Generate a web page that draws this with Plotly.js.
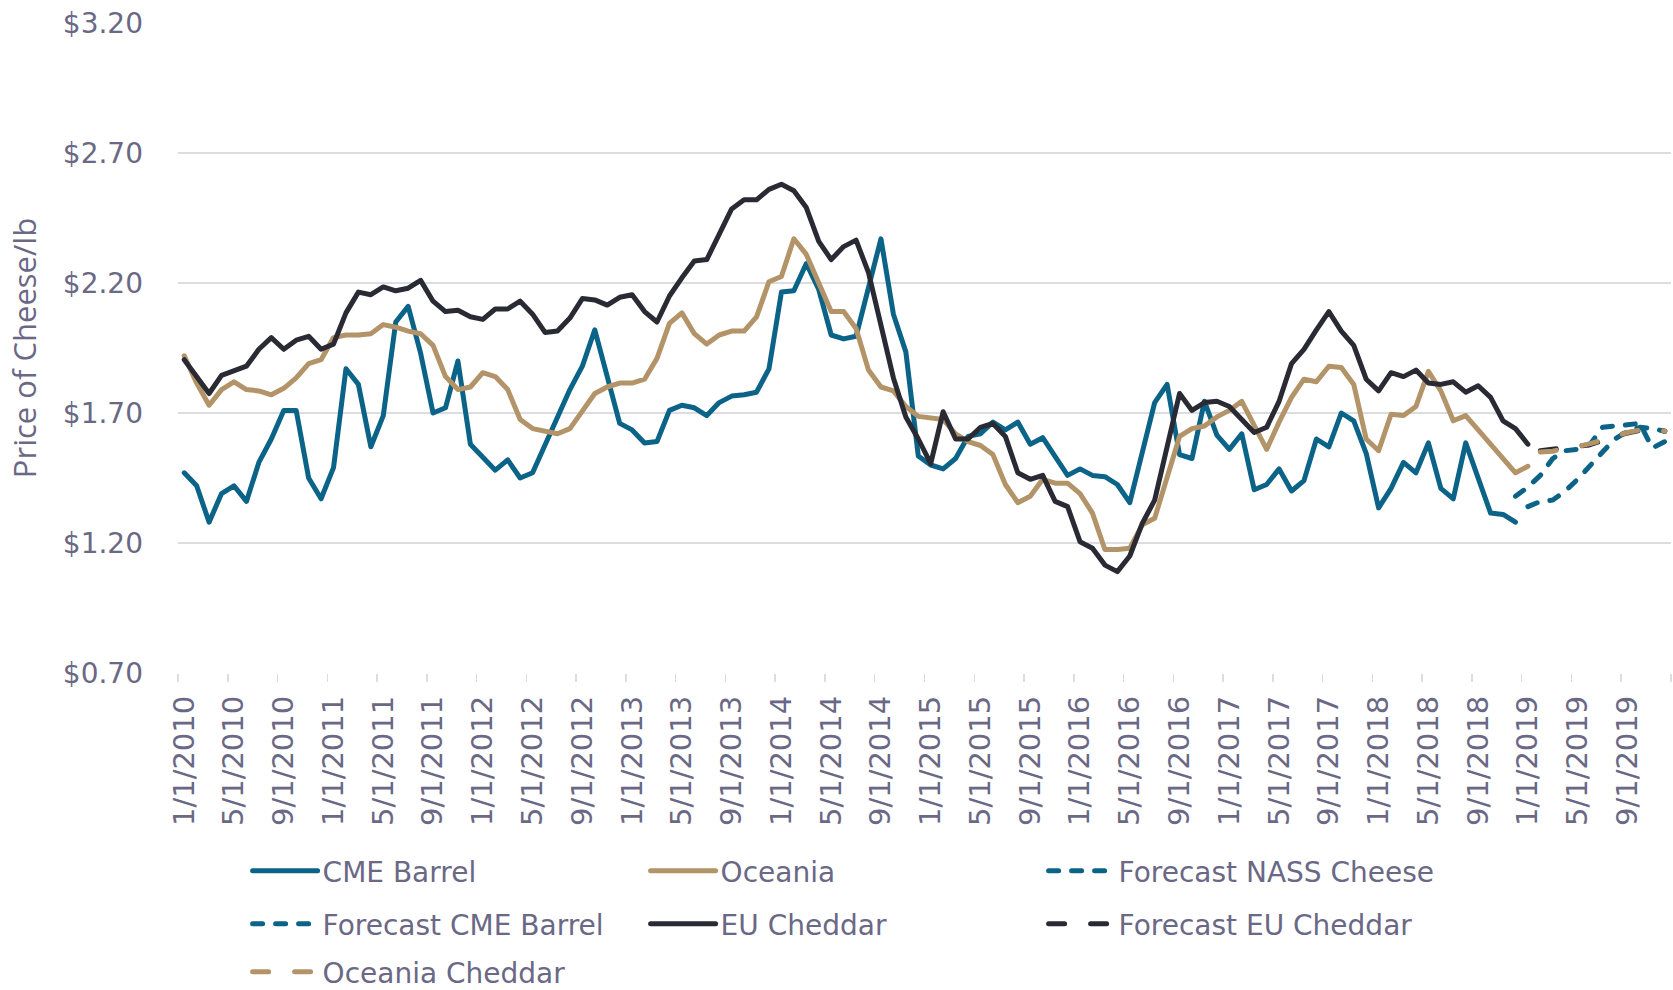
<!DOCTYPE html>
<html><head><meta charset="utf-8">
<script src="https://cdn.plot.ly/plotly-3.0.1.min.js"></script>
<style>
html,body{margin:0;padding:0;background:#fff;}
#chart{width:1673px;height:990px;}
.scatterlayer .js-line, .legendlines path { stroke-linecap: round; stroke-linejoin: round; }
</style></head><body><div id="chart"></div><script>
const months = [
"1/1/2010","2/1/2010","3/1/2010","4/1/2010","5/1/2010","6/1/2010","7/1/2010","8/1/2010","9/1/2010","10/1/2010","11/1/2010","12/1/2010",
"1/1/2011","2/1/2011","3/1/2011","4/1/2011","5/1/2011","6/1/2011","7/1/2011","8/1/2011","9/1/2011","10/1/2011","11/1/2011","12/1/2011",
"1/1/2012","2/1/2012","3/1/2012","4/1/2012","5/1/2012","6/1/2012","7/1/2012","8/1/2012","9/1/2012","10/1/2012","11/1/2012","12/1/2012",
"1/1/2013","2/1/2013","3/1/2013","4/1/2013","5/1/2013","6/1/2013","7/1/2013","8/1/2013","9/1/2013","10/1/2013","11/1/2013","12/1/2013",
"1/1/2014","2/1/2014","3/1/2014","4/1/2014","5/1/2014","6/1/2014","7/1/2014","8/1/2014","9/1/2014","10/1/2014","11/1/2014","12/1/2014",
"1/1/2015","2/1/2015","3/1/2015","4/1/2015","5/1/2015","6/1/2015","7/1/2015","8/1/2015","9/1/2015","10/1/2015","11/1/2015","12/1/2015",
"1/1/2016","2/1/2016","3/1/2016","4/1/2016","5/1/2016","6/1/2016","7/1/2016","8/1/2016","9/1/2016","10/1/2016","11/1/2016","12/1/2016",
"1/1/2017","2/1/2017","3/1/2017","4/1/2017","5/1/2017","6/1/2017","7/1/2017","8/1/2017","9/1/2017","10/1/2017","11/1/2017","12/1/2017",
"1/1/2018","2/1/2018","3/1/2018","4/1/2018","5/1/2018","6/1/2018","7/1/2018","8/1/2018","9/1/2018","10/1/2018","11/1/2018","12/1/2018",
"1/1/2019","2/1/2019","3/1/2019","4/1/2019","5/1/2019","6/1/2019","7/1/2019","8/1/2019","9/1/2019","10/1/2019","11/1/2019","12/1/2019"
];
const tickLabels = [
"1/1/2010","5/1/2010","9/1/2010","1/1/2011","5/1/2011","9/1/2011","1/1/2012","5/1/2012","9/1/2012",
"1/1/2013","5/1/2013","9/1/2013","1/1/2014","5/1/2014","9/1/2014","1/1/2015","5/1/2015","9/1/2015",
"1/1/2016","5/1/2016","9/1/2016","1/1/2017","5/1/2017","9/1/2017","1/1/2018","5/1/2018","9/1/2018",
"1/1/2019","5/1/2019","9/1/2019"
];
const yTicks = [0.70, 1.20, 1.70, 2.20, 2.70, 3.20];
const yTickText = ["$0.70", "$1.20", "$1.70", "$2.20", "$2.70", "$3.20"];

const cmeBarrel = [
1.47,1.42,1.28,1.39,1.42,1.36,1.51,1.60,1.71,1.71,1.45,1.37,
1.49,1.87,1.81,1.57,1.69,2.05,2.11,1.93,1.70,1.72,1.90,1.58,
1.53,1.48,1.52,1.45,1.47,1.58,1.68,1.79,1.88,2.02,1.84,1.66,
1.635,1.585,1.59,1.71,1.73,1.72,1.69,1.74,1.765,1.77,1.78,1.87,
2.165,2.17,2.275,2.175,2.00,1.985,1.995,2.175,2.37,2.08,1.935,1.535,
1.50,1.485,1.525,1.61,1.62,1.665,1.635,1.665,1.58,1.605,1.535,1.46,
1.485,1.46,1.455,1.425,1.355,1.545,1.74,1.81,1.54,1.525,1.745,1.615,
1.56,1.62,1.405,1.425,1.485,1.40,1.44,1.60,1.57,1.70,1.67,1.545,
1.335,1.41,1.51,1.47,1.585,1.41,1.37,1.585,1.45,1.315,1.31,1.28,
null,null,null,null,null,null,null,null,null,null,null,null
];
const oceania = [
1.92,1.815,1.73,1.79,1.82,1.79,1.785,1.77,1.795,1.835,1.89,1.905,
1.99,2.00,2.00,2.005,2.04,2.03,2.015,2.005,1.96,1.84,1.79,1.80,
1.855,1.84,1.79,1.675,1.64,1.63,1.62,1.64,1.71,1.775,1.80,1.815,
1.815,1.83,1.91,2.045,2.085,2.005,1.965,2.00,2.015,2.015,2.07,2.205,
2.225,2.37,2.31,2.20,2.09,2.09,2.025,1.865,1.80,1.785,1.725,1.687,
1.68,1.675,1.62,1.59,1.575,1.54,1.425,1.355,1.38,1.445,1.43,1.43,
1.39,1.315,1.175,1.175,1.18,1.27,1.295,1.455,1.61,1.64,1.65,1.685,
1.71,1.745,1.655,1.56,1.665,1.76,1.83,1.82,1.88,1.875,1.81,1.60,
1.555,1.695,1.69,1.725,1.86,1.785,1.67,1.69,1.635,1.58,1.525,1.47,
1.495,null,null,null,null,null,null,null,null,null,null,null
];
const forecastNass = [
null,null,null,null,null,null,null,null,null,null,null,null,
null,null,null,null,null,null,null,null,null,null,null,null,
null,null,null,null,null,null,null,null,null,null,null,null,
null,null,null,null,null,null,null,null,null,null,null,null,
null,null,null,null,null,null,null,null,null,null,null,null,
null,null,null,null,null,null,null,null,null,null,null,null,
null,null,null,null,null,null,null,null,null,null,null,null,
null,null,null,null,null,null,null,null,null,null,null,null,
null,null,null,null,null,null,null,null,null,null,null,1.38,
1.415,1.46,1.525,1.555,1.56,1.58,1.645,1.65,1.655,1.66,1.565,1.59
];
const forecastCme = [
null,null,null,null,null,null,null,null,null,null,null,null,
null,null,null,null,null,null,null,null,null,null,null,null,
null,null,null,null,null,null,null,null,null,null,null,null,
null,null,null,null,null,null,null,null,null,null,null,null,
null,null,null,null,null,null,null,null,null,null,null,null,
null,null,null,null,null,null,null,null,null,null,null,null,
null,null,null,null,null,null,null,null,null,null,null,null,
null,null,null,null,null,null,null,null,null,null,null,null,
null,null,null,null,null,null,null,null,null,null,null,null,
1.34,1.36,1.365,1.40,1.445,1.50,1.55,1.60,1.63,1.645,1.64,1.63
];
const euCheddar = [
1.905,1.84,1.775,1.845,1.865,1.88,1.945,1.99,1.945,1.98,1.995,1.945,
1.965,2.085,2.165,2.155,2.185,2.17,2.18,2.21,2.13,2.09,2.095,2.07,
2.06,2.10,2.10,2.13,2.08,2.01,2.015,2.065,2.14,2.135,2.115,2.145,
2.155,2.09,2.05,2.15,2.22,2.285,2.29,2.385,2.485,2.52,2.52,2.56,
2.58,2.555,2.49,2.36,2.29,2.34,2.365,2.24,2.045,1.835,1.685,1.60,
1.505,1.705,1.60,1.60,1.645,1.66,1.61,1.47,1.445,1.46,1.36,1.34,
1.205,1.18,1.115,1.09,1.15,1.275,1.365,1.565,1.775,1.71,1.74,1.745,
1.725,1.675,1.625,1.645,1.745,1.89,1.945,2.02,2.09,2.015,1.96,1.83,
1.785,1.855,1.84,1.865,1.815,1.81,1.82,1.78,1.805,1.76,1.67,1.64,
1.58,null,null,null,null,null,null,null,null,null,null,null
];
const forecastEu = [
null,null,null,null,null,null,null,null,null,null,null,null,
null,null,null,null,null,null,null,null,null,null,null,null,
null,null,null,null,null,null,null,null,null,null,null,null,
null,null,null,null,null,null,null,null,null,null,null,null,
null,null,null,null,null,null,null,null,null,null,null,null,
null,null,null,null,null,null,null,null,null,null,null,null,
null,null,null,null,null,null,null,null,null,null,null,null,
null,null,null,null,null,null,null,null,null,null,null,null,
null,null,null,null,null,null,null,null,null,null,null,null,
null,1.555,1.56,1.565,1.57,1.578,1.594,1.612,1.623,1.633,1.635,1.63
];
const oceaniaCheddar = [
null,null,null,null,null,null,null,null,null,null,null,null,
null,null,null,null,null,null,null,null,null,null,null,null,
null,null,null,null,null,null,null,null,null,null,null,null,
null,null,null,null,null,null,null,null,null,null,null,null,
null,null,null,null,null,null,null,null,null,null,null,null,
null,null,null,null,null,null,null,null,null,null,null,null,
null,null,null,null,null,null,null,null,null,null,null,null,
null,null,null,null,null,null,null,null,null,null,null,null,
null,null,null,null,null,null,null,null,null,null,null,null,
null,1.55,1.553,1.565,1.571,1.582,1.597,1.612,1.625,1.635,1.635,1.63
];

const BLUE = '#0B6387', TAN = '#B39368', DARK = '#2A2A34', TXT = '#6A6885', GRID = '#DCDCE3';
const xIdx = months.map((m, i) => i);
const FONT = 'DejaVu Sans, Verdana, sans-serif';

function tr(name, y, color, dash, legend) {
  return {type: 'scatter', mode: 'lines', name: name, x: xIdx, y: y,
    line: {color: color, width: 5, dash: dash}, legend: legend, hoverinfo: 'skip'};
}
const DOTS = '10px,13px', LONG = '16px,26px';
const data = [
  tr('CME Barrel', cmeBarrel, BLUE, 'solid', 'legend'),
  tr('Oceania', oceania, TAN, 'solid', 'legend'),
  tr('Forecast NASS Cheese', forecastNass, BLUE, DOTS, 'legend'),
  tr('Forecast CME Barrel', forecastCme, BLUE, DOTS, 'legend2'),
  tr('EU Cheddar', euCheddar, DARK, 'solid', 'legend2'),
  tr('Forecast EU Cheddar', forecastEu, DARK, LONG, 'legend2'),
  tr('Oceania Cheddar', oceaniaCheddar, TAN, LONG, 'legend3')
];

const legBase = {orientation: 'h', xref: 'container', yref: 'container', xanchor: 'left', yanchor: 'middle',
  x: 0.148, entrywidth: 318, entrywidthmode: 'pixels', itemwidth: 65,
  font: {family: FONT, size: 28, color: TXT}, bgcolor: 'rgba(0,0,0,0)', traceorder: 'normal'};

const layout = {
  width: 1673, height: 990,
  margin: {l: 178, r: 2, t: 23, b: 317, pad: 0},
  paper_bgcolor: '#fff', plot_bgcolor: '#fff',
  showlegend: true,
  legend: Object.assign({}, legBase, {y: 1 - 871/990}),
  legend2: Object.assign({}, legBase, {y: 1 - 924/990}),
  legend3: Object.assign({}, legBase, {y: 1 - 972/990}),
  xaxis: {
    range: [-0.5, 119.5], tickmode: 'array',
    tickvals: tickLabels.map(t => months.indexOf(t)), ticktext: tickLabels,
    tickangle: -90, ticks: '', showgrid: false, zeroline: false, showline: false,
    tickfont: {family: FONT, size: 29, color: TXT}, ticklabelstandoff: 16,
    minor: {tickmode: 'linear', tick0: -0.5, dtick: 4, ticks: 'outside', ticklen: 8,
      tickwidth: 1.5, tickcolor: GRID, showgrid: false}
  },
  yaxis: {
    range: [0.70, 3.20], tickmode: 'array', tickvals: yTicks, ticktext: yTickText, ticks: '',
    showgrid: true, gridcolor: GRID, gridwidth: 1.6, zeroline: false, showline: false,
    tickfont: {family: FONT, size: 28, color: TXT}, ticklabelstandoff: 34,
    title: {text: 'Price of Cheese/lb', font: {family: 'Open Sans, sans-serif', size: 31, color: TXT}, standoff: 16}
  }
};
Plotly.newPlot('chart', data, layout, {displayModeBar: false, staticPlot: true});
</script></body></html>
